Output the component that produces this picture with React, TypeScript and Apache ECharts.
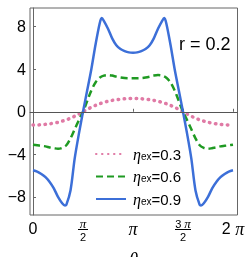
import React, { useEffect, useRef } from "react";
import * as echarts from "echarts";

// theta in units of pi
const thetaGrid = [
  0, 0.0417, 0.0833, 0.125, 0.1667, 0.2083, 0.25, 0.2917, 0.3333, 0.375, 0.4167, 0.4583,
  0.5, 0.5417, 0.5833, 0.625, 0.6667, 0.7083, 0.75, 0.7917, 0.8333, 0.875, 0.9167, 0.9583,
  1, 1.0417, 1.0833, 1.125, 1.1667, 1.2083, 1.25, 1.2917, 1.3333, 1.375, 1.4167, 1.4583,
  1.5, 1.5417, 1.5833, 1.625, 1.6667, 1.7083, 1.75, 1.7917, 1.8333, 1.875, 1.9167, 1.9583, 2,
];

const pinkVals = [
  -1.25, -1.24, -1.22, -1.18, -1.13, -1.07, -0.99, -0.88, -0.76, -0.6, -0.42, -0.22,
  0, 0.22, 0.42, 0.6, 0.76, 0.88, 0.99, 1.07, 1.13, 1.18, 1.22, 1.24,
  1.25, 1.24, 1.22, 1.18, 1.13, 1.07, 0.99, 0.88, 0.76, 0.6, 0.42, 0.22,
  0, -0.22, -0.42, -0.6, -0.76, -0.88, -0.99, -1.07, -1.13, -1.18, -1.22, -1.24, -1.25,
];

const greenVals = [
  -3.1, -3.15, -3.2, -3.25, -3.35, -3.42, -3.48, -3.4, -3.15, -2.5, -1.65, -0.8,
  0, 1.0, 2.0, 2.75, 3.2, 3.4, 3.45, 3.4, 3.3, 3.22, 3.17, 3.15,
  3.15, 3.15, 3.17, 3.22, 3.3, 3.4, 3.45, 3.4, 3.2, 2.75, 2.0, 1.0,
  0, -0.8, -1.65, -2.5, -3.15, -3.4, -3.48, -3.42, -3.35, -3.25, -3.2, -3.15, -3.1,
];

const blueTheta = [
  0, 0.0417, 0.0833, 0.125, 0.1667, 0.2083, 0.25, 0.2917, 0.32, 0.3333, 0.375, 0.4167, 0.4583,
  0.5, 0.5417, 0.5833, 0.625, 0.6667, 0.687, 0.7083, 0.75, 0.7917, 0.8333, 0.875, 0.9167, 0.9583,
  1, 1.0417, 1.0833, 1.125, 1.1667, 1.2083, 1.25, 1.2917, 1.313, 1.3333, 1.375, 1.4167, 1.4583,
  1.5, 1.5417, 1.5833, 1.625, 1.6667, 1.68, 1.7083, 1.75, 1.7917, 1.8333, 1.875, 1.9167, 1.9583, 2,
];

const blueVals = [
  -5.5, -5.62, -5.85, -6.15, -6.6, -7.2, -8.0, -8.6, -8.8, -8.75, -7.4, -4.4, -2.1,
  0, 2.0, 4.0, 6.3, 8.3, 8.8, 8.55, 7.8, 6.9, 6.25, 5.9, 5.7, 5.58,
  5.55, 5.58, 5.7, 5.9, 6.25, 6.9, 7.8, 8.55, 8.8, 8.3, 6.3, 4.0, 2.0,
  0, -2.1, -4.4, -7.4, -8.75, -8.8, -8.6, -8.0, -7.2, -6.6, -6.15, -5.85, -5.62, -5.5,
];

const seriesNames = ["0.3", "0.6", "0.9"];
const xTicks = [0, 0.5, 1, 1.5, 2];
const yTicks = [-8, -4, 0, 4, 8];

const SANS = "Liberation Sans, Arial, sans-serif";
const SERIF = "Liberation Serif, Times New Roman, serif";

export default function App() {
  const ref = useRef<HTMLDivElement>(null);
  useEffect(() => {
    if (!ref.current) return;
    const chart = echarts.init(ref.current, null, { renderer: "svg" });
    const zip = (xs: number[], ys: number[]) => xs.map((x, i) => [x, ys[i]]);
    chart.setOption({
      animation: false,
      grid: {
        left: 30,
        right: 14.5,
        top: 8,
        bottom: 42,
        outerBoundsMode: "none",
        containLabel: false,
        show: true,
        borderColor: "#666",
        borderWidth: 1,
      },
      xAxis: {
        type: "value",
        min: -0.03,
        max: 2.045,
        name: "θ",
        nameLocation: "middle",
        nameGap: 35,
        nameTextStyle: { fontFamily: SERIF, fontStyle: "italic", fontSize: 18, color: "#000", verticalAlign: "top" },
        axisLine: { show: true, lineStyle: { color: "#666", width: 1 } },
        axisTick: { show: true, inside: true, length: 3, customValues: xTicks, lineStyle: { color: "#666" } },
        splitLine: { show: false },
        axisLabel: {
          customValues: xTicks,
          margin: 4,
          color: "#000",
          formatter: (v: number) => {
            const k = Math.round(v * 2);
            if (k === 0) return "{m|0}";
            if (k === 1) return "{fn|π}\n{bar| }\n{fd|2}";
            if (k === 2) return "{pi|π}";
            if (k === 3) return "{fs|3 }{fn|π}\n{barw| }\n{fd|2}";
            return "{m|2 }{pi|π}";
          },
          rich: {
            m: { fontSize: 16, fontFamily: SANS, color: "#000", lineHeight: 19 },
            pi: { fontSize: 18, fontFamily: SERIF, fontStyle: "italic", color: "#000", lineHeight: 19 },
            fn: { fontSize: 13, fontFamily: SERIF, fontStyle: "italic", color: "#000", lineHeight: 9 },
            fs: { fontSize: 11, fontFamily: SANS, color: "#000", lineHeight: 9 },
            bar: { width: 10, height: 1, backgroundColor: "#000", lineHeight: 3, fontSize: 1 },
            barw: { width: 16, height: 1, backgroundColor: "#000", lineHeight: 3, fontSize: 1 },
            fd: { fontSize: 11, fontFamily: SANS, color: "#000", lineHeight: 12 },
          },
        },
      },
      yAxis: {
        type: "value",
        min: -9.7,
        max: 9.75,
        axisLine: { show: true, lineStyle: { color: "#666", width: 1 } },
        axisTick: { show: true, inside: true, length: 3, customValues: yTicks, lineStyle: { color: "#666" } },
        splitLine: { show: false },
        axisLabel: {
          customValues: yTicks,
          margin: 4,
          fontSize: 16,
          fontFamily: SANS,
          color: "#000",
          formatter: (v: number) => (v < 0 ? "\u2212" + Math.abs(v) : String(v)),
        },
      },
      legend: {
        orient: "vertical",
        left: 90,
        top: 141,
        itemWidth: 30,
        itemHeight: 14,
        itemGap: 6.5,
        data: seriesNames,
        itemStyle: { opacity: 0 },
        formatter: (name: string) => `{eta|η}{sub|ex}{t|=${name}}`,
        textStyle: {
          padding: [0, 0, 0, 2],
          rich: {
            eta: { fontSize: 16, fontFamily: SERIF, fontStyle: "italic", color: "#000", lineHeight: 14 },
            sub: { fontSize: 10, fontFamily: SANS, color: "#000", lineHeight: 14, verticalAlign: "bottom" },
            t: { fontSize: 15, fontFamily: SANS, color: "#000", lineHeight: 14 },
          },
        },
      },
      graphic: [
        {
          type: "text",
          left: 179,
          top: 35,
          style: { text: "r = 0.2", fontSize: 18, fontFamily: SANS, fill: "#000" },
        },
      ],
      series: [
        {
          name: seriesNames[0],
          type: "line",
          data: zip(thetaGrid, pinkVals),
          showSymbol: false,
          symbol: "none",
          smooth: 0.3,
          color: "#e07aa5",
          lineStyle: { color: "#e07aa5", width: 3.5, type: [0.5, 5.5], cap: "round" },
          markLine: {
            silent: true,
            symbol: ["none", "none"],
            label: { show: false },
            lineStyle: { color: "#555", width: 1, type: "solid" },
            data: [{ yAxis: 0 }],
          },
        },
        {
          name: seriesNames[1],
          type: "line",
          data: zip(thetaGrid, greenVals),
          showSymbol: false,
          symbol: "none",
          smooth: 0.3,
          color: "#1f9a22",
          lineStyle: { color: "#1f9a22", width: 2.5, type: [7, 4] },
        },
        {
          name: seriesNames[2],
          type: "line",
          data: zip(blueTheta, blueVals),
          showSymbol: false,
          symbol: "none",
          smooth: 0.3,
          color: "#3c6fd8",
          lineStyle: { color: "#3c6fd8", width: 2.5 },
        },
      ],
    });
    return () => chart.dispose();
  }, []);
  return <div ref={ref} style={{ position: "fixed", left: 0, top: 0, width: 252, height: 257 }} />;
}
